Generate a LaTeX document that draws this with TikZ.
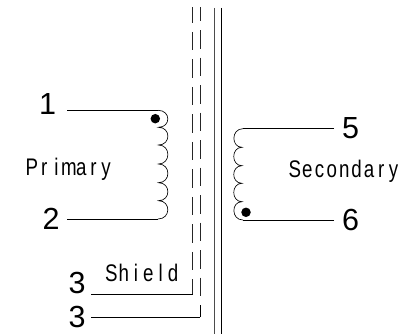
\documentclass[tikz,border=0pt]{standalone}
\usepackage{fontspec}
\setmainfont{Liberation Sans}
\newfontfamily\labelfont[FakeStretch=0.78]{Liberation Sans}
\makeatletter
\newcommand\spacedword[1]{\@tfor\cc:=#1\do{\makebox[12.35pt]{\cc}}}
\makeatother
\tikzset{
  wire/.style={line width=0.9pt,black},
  coilline/.style={line width=0.65pt,black},
  shieldline/.style={line width=0.9pt,black!85,dash pattern=on 18.6pt off 8.9pt},
  coreline/.style={line width=1pt,black!70},
  pin/.style={inner sep=0pt,font=\fontsize{30.5}{31}\selectfont},
  caption/.style={inner sep=0pt,font=\fontsize{24}{26}\labelfont},
  polarity/.style={circle,fill=black,inner sep=0pt,minimum size=9.5pt}
}
\begin{document}
\begin{tikzpicture}[x=1pt,y=-1pt]
\useasboundingbox (0,0) rectangle (419,334);
% core
\coordinate (c1t) at (214,8); \coordinate (c1b) at (214,334);
\coordinate (c2t) at (221,8); \coordinate (c2b) at (221,334);
\draw[coreline] (c1t) -- (c1b);
\draw[coreline,black] (c2t) -- (c2b);
% shields
\coordinate (s1t) at (192.7,4.3); \coordinate (s1b) at (192.7,294);
\coordinate (s2t) at (200,2.6); \coordinate (s2b) at (200,317);
\begin{scope}
\clip (180,8) rectangle (210,334);
\draw[shieldline] (s1t) -- (s1b);
\draw[shieldline] (s2t) -- (s2b);
\end{scope}
% primary
\coordinate (p1) at (67,110.3); \coordinate (p1c) at (158,110.3);
\coordinate (p2) at (67,219); \coordinate (p2c) at (158,219);
\draw[wire] (p1) -- (p1c);
\draw[wire] (p2) -- (p2c);
\draw[coilline] (p1c)
  .. controls (171,110.3) and (171,127.3) .. (158.5,127.3)
  .. controls (171,127.3) and (171,145) .. (158.5,145)
  .. controls (171,145) and (171,164) .. (158.5,164)
  .. controls (171,164) and (171,182.7) .. (158.5,182.7)
  .. controls (171,182.7) and (171,200.7) .. (158.5,200.7)
  .. controls (171,200.7) and (171,219) .. (p2c);
\node[polarity] (d1) at (155.3,118.7) {};
% secondary
\coordinate (q1) at (334,128.7); \coordinate (q1c) at (243,128.7);
\coordinate (q2) at (334,220); \coordinate (q2c) at (243,220);
\draw[wire] (q1) -- (q1c);
\draw[wire] (q2) -- (q2c);
\draw[coilline] (q1c)
  .. controls (231,128.7) and (231,147.3) .. (242,147.3)
  .. controls (231,147.3) and (231,165.7) .. (242,165.7)
  .. controls (231,165.7) and (231,183.3) .. (242,183.3)
  .. controls (231,183.3) and (231,201.7) .. (242,201.7)
  .. controls (231,201.7) and (231,220) .. (q2c);
\node[polarity] (d2) at (246,212.3) {};
% shield leads
\coordinate (l1) at (91,294); \coordinate (l2) at (91,317);
\draw[wire] (l1) -- (s1b);
\draw[wire] (l2) -- (s2b);
\draw[wire] (s2b) -- (200,305);
% labels
\node[pin] (n1) at (47.5,104) {1};
\node[pin] (n2) at (51,219) {2};
\node[pin] (n3a) at (77,282.5) {3};
\node[pin] (n3b) at (77,317) {3};
\node[pin] (n5) at (350.5,128) {5};
\node[pin] (n6) at (350.5,220) {6};
\node[caption,anchor=base west] (prim) at (25.5,175) {\spacedword{Primary}};
\node[caption,anchor=base west] (shld) at (105,281.5) {\spacedword{Shield}};
\node[caption,anchor=base west] (sec) at (288.5,177) {\spacedword{Secondary}};
\end{tikzpicture}
\end{document}
